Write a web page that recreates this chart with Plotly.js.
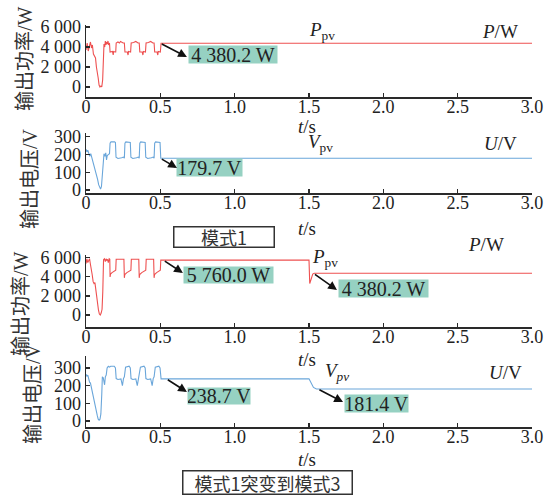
<!DOCTYPE html>
<html>
<head>
<meta charset="utf-8">
<script src="https://cdn.plot.ly/plotly-3.0.1.min.js"></script>
<style>html,body{margin:0;padding:0;background:#fff;}#chart{width:552px;height:496px;}</style>
</head>
<body>
<div id="chart"></div>
<script>
// ---- data ----
// Panel 1: mode 1, output power (W)
const t1 = [0,0.008,0.015,0.022,0.030,0.037,0.043,0.050,0.058,0.064,0.070,0.076,0.082,0.088,0.094,0.100,0.106,0.112,0.117,0.121,0.126,0.130,0.134,0.138,0.143,0.148,0.152,0.158,0.162,0.170,0.178,0.183,0.186,0.195,0.200,0.203,0.215,0.225,0.232,0.250,0.258,0.262,0.278,0.283,0.286,0.300,0.304,0.320,0.335,0.350,0.358,0.362,0.378,0.383,0.386,0.400,0.404,0.420,0.435,0.450,0.458,0.462,0.478,0.483,0.486,0.500,0.505,3.0];
const p1 = [3700,4400,3600,4100,4500,3900,4200,3300,3100,2900,2000,1600,900,200,0,100,0,700,2800,4300,4000,4600,4200,4500,4300,4600,4200,4400,3500,3500,3550,3200,3550,3500,3500,4400,4500,4400,4550,4400,4400,3500,3500,3200,3550,3500,4400,4450,4550,4400,4400,3500,3500,3200,3550,3500,4400,4450,4550,4400,4400,3500,3500,3200,3550,3500,4380.2,4380.2];
// Panel 2: mode 1, output voltage (V)
const t2 = [0,0.006,0.012,0.018,0.025,0.032,0.040,0.048,0.055,0.062,0.070,0.078,0.085,0.092,0.098,0.104,0.110,0.116,0.121,0.127,0.133,0.138,0.143,0.150,0.158,0.162,0.168,0.192,0.198,0.202,0.215,0.240,0.252,0.258,0.262,0.268,0.292,0.298,0.302,0.315,0.340,0.352,0.358,0.362,0.368,0.392,0.398,0.402,0.415,0.440,0.452,0.458,0.462,0.468,0.492,0.498,0.503,3.0];
const v2 = [230,215,225,200,190,205,180,160,140,120,90,60,30,15,5,20,100,180,205,190,210,170,195,200,205,265,272,272,268,185,178,182,186,180,265,272,272,268,185,178,182,186,180,265,272,272,268,185,178,182,186,180,265,272,272,268,179.7,179.7];
// Panel 3: mode 1 -> mode 3, output power (W)
const t3 = [0,0.006,0.012,0.018,0.024,0.030,0.036,0.042,0.048,0.054,0.060,0.066,0.072,0.078,0.084,0.090,0.096,0.102,0.108,0.113,0.118,0.124,0.130,0.135,0.140,0.145,0.150,0.156,0.160,0.162,0.165,0.175,0.188,0.200,0.203,0.255,0.258,0.261,0.275,0.290,0.302,0.305,0.355,0.358,0.361,0.375,0.390,0.402,0.405,0.455,0.458,0.461,0.475,0.490,0.500,0.503,1.500,1.505,1.515,1.525,1.535,3.0];
const p3 = [5400,5900,5500,5700,5900,5300,4400,4200,3500,3300,3400,2500,1600,1200,500,100,0,200,600,2500,5800,5900,5600,5900,5750,5850,5500,5900,5850,4000,4300,4450,4600,4700,5850,5850,3900,4250,4450,4600,4700,5850,5850,3900,4250,4450,4600,4700,5850,5850,3900,4250,4450,4600,4700,5760,5760,3300,3900,4300,4380.2,4380.2];
// Panel 4: mode 1 -> mode 3, output voltage (V)
const t4 = [0,0.006,0.012,0.018,0.024,0.030,0.036,0.042,0.050,0.058,0.064,0.070,0.076,0.082,0.088,0.094,0.100,0.106,0.110,0.116,0.121,0.125,0.130,0.136,0.142,0.150,0.158,0.166,0.190,0.198,0.203,0.215,0.235,0.245,0.252,0.258,0.266,0.290,0.298,0.303,0.315,0.335,0.345,0.352,0.358,0.366,0.390,0.398,0.403,0.415,0.435,0.445,0.452,0.458,0.466,0.490,0.498,0.505,1.500,1.515,1.530,1.550,3.0];
const v4 = [265,255,260,235,220,215,190,160,120,90,60,40,30,10,5,10,40,150,250,245,230,205,250,260,300,310,305,310,310,300,240,235,238,200,240,250,305,310,300,240,235,238,200,240,250,305,310,300,240,235,238,200,240,250,305,310,300,238.7,238.7,215,190,181.4,181.4];

const xTickVals = [0,0.5,1.0,1.5,2.0,2.5,3.0];
const xTickText = ['0','0.5','1.0','1.5','2.0','2.5','3.0'];
const pTickVals = [0,2000,4000,6000];
const pTickText = ['0','2 000','4 000','6 000'];
const vTickVals = [0,100,200,300];
const vTickText = ['0','100','200','300'];
const yTitlePower = '输出功率/W';
const yTitleVoltage = '输出电压/V';
const modeLabel1 = '模式1';
const modeLabel2 = '模式1突变到模式3';
const callouts = ['4 380.2 W','179.7 V','5 760.0 W','4 380.2 W','238.7 V','181.4 V'];

// ---- layout helpers ----
const W = 552, H = 496;
const px = v => v / W;
const py = v => 1 - v / H;
const RED = '#ee5050', BLUE = '#6aa6da';
const serif = 'Liberation Serif, Times New Roman, serif';
const cjk = 'Liberation Serif, Noto Sans CJK SC, serif';
const axisCol = '#2a2a2a';

function xAx(anchor) {
  return {domain:[px(86), px(532)], anchor:anchor, range:[0,3], tickvals:xTickVals, ticktext:xTickText,
    showline:true, linecolor:axisCol, linewidth:1.5, ticks:'inside', ticklen:4, tickwidth:1.2, tickcolor:axisCol,
    ticklabelstandoff:-7,
    showgrid:false, zeroline:false, tickfont:{family:serif, size:18, color:'#222'}, fixedrange:true};
}
function yAx(anchor, top, bottom, range, vals, text) {
  return {domain:[py(bottom), py(top)], anchor:anchor, range:range, tickvals:vals, ticktext:text,
    showline:true, linecolor:axisCol, linewidth:1.5, ticks:'inside', ticklen:4, tickwidth:1.2, tickcolor:axisCol,
    showgrid:false, zeroline:false, tickfont:{family:serif, size:18, color:'#222'}, fixedrange:true};
}

const traces = [
  {x:t1, y:p1, xaxis:'x', yaxis:'y', mode:'lines', line:{color:RED, width:1.1}},
  {x:t2, y:v2, xaxis:'x2', yaxis:'y2', mode:'lines', line:{color:BLUE, width:1.1}},
  {x:t3, y:p3, xaxis:'x3', yaxis:'y3', mode:'lines', line:{color:RED, width:1.1}},
  {x:t4, y:v4, xaxis:'x4', yaxis:'y4', mode:'lines', line:{color:BLUE, width:1.1}}
];

const TEAL = '#96d1c2';
function box(text, cx, cy, w, h) {
  return {xref:'paper', yref:'paper', x:px(cx), y:py(cy), text:text, showarrow:false,
    bgcolor:TEAL, width:w, height:h, borderpad:0, font:{family:serif, size:20, color:'#222'},
    xanchor:'center', yanchor:'middle'};
}
function arrow(xr, yr, tx, ty, hx, hy) {
  return {xref:xr, yref:yr, axref:xr, ayref:yr, x:hx, y:hy, ax:tx, ay:ty, text:'', showarrow:true,
    arrowhead:2, arrowsize:1.1, arrowwidth:1.6, arrowcolor:'#111', standoff:0, startstandoff:0};
}
function txt(text, cx, cy, size, extra) {
  return Object.assign({xref:'paper', yref:'paper', x:px(cx), y:py(cy), text:text, showarrow:false,
    font:{family:serif, size:size, color:'#222'}, xanchor:'center', yanchor:'middle'}, extra||{});
}
function ylab(text, cx, cy) {
  return {xref:'paper', yref:'paper', x:px(cx), y:py(cy), text:text, showarrow:false, textangle:-90,
    font:{family:cjk, size:20, color:'#333'}, xanchor:'center', yanchor:'middle'};
}
function modeBox(text, cx, cy, w, h) {
  return {xref:'paper', yref:'paper', x:px(cx), y:py(cy), text:text, showarrow:false, width:w, height:h,
    bordercolor:'#333', borderwidth:1.5, borderpad:0, bgcolor:'#fff',
    font:{family:'Noto Sans CJK SC, Liberation Serif, sans-serif', size:18, color:'#333'}, xanchor:'center', yanchor:'middle'};
}

const annotations = [
  // y-axis titles
  ylab(yTitlePower, 25, 59), ylab(yTitleVoltage, 30, 179), ylab(yTitlePower, 21, 304), ylab(yTitleVoltage, 33, 394),
  // t/s titles
  txt('<i>t</i>/s', 307, 126, 19), txt('<i>t</i>/s', 307, 228, 19), txt('<i>t</i>/s', 307, 359, 19), txt('<i>t</i>/s', 307, 459, 19),
  // series labels
  txt('<i>P</i><sub>pv</sub>', 322, 31, 19), txt('<i>P</i>/W', 500, 31, 19),
  txt('<i>V</i><sub>pv</sub>', 320, 143, 19), txt('<i>U</i>/V', 500, 143, 19),
  txt('<i>P</i><sub>pv</sub>', 325, 258, 19), txt('<i>P</i>/W', 486, 244, 19),
  txt('<i>V</i><sub><i>pv</i></sub>', 337, 372, 19), txt('<i>U</i>/V', 505, 372, 19),
  // callout boxes
  box(callouts[0], 233, 55, 88, 17), box(callouts[1], 209, 168, 65, 17), box(callouts[2], 228, 275, 89, 16),
  box(callouts[3], 383, 288, 89, 17), box(callouts[4], 219, 396, 62, 16), box(callouts[5], 376, 403, 63, 17),
  // arrows (tail on the curve, head at box)
  arrow('x', 'y', 0.5, 4380.2, 0.679, 3000),
  arrow('x2', 'y2', 0.5, 179.7, 0.612, 124),
  arrow('x3', 'y3', 0.52, 5760, 0.652, 4410),
  arrow('x3', 'y3', 1.53, 4380.2, 1.688, 2625),
  arrow('x4', 'y4', 0.54, 238.7, 0.679, 164),
  arrow('x4', 'y4', 1.56, 181.4, 1.729, 107),
  // mode boxes
  modeBox(modeLabel1, 223.5, 236.5, 99, 19), modeBox(modeLabel2, 267, 482, 168, 22)
];

const layout = {
  width:W, height:H, margin:{l:0, r:0, t:0, b:0}, showlegend:false,
  paper_bgcolor:'#ffffff', plot_bgcolor:'rgba(0,0,0,0)',
  xaxis:xAx('y'), xaxis2:xAx('y2'), xaxis3:xAx('y3'), xaxis4:xAx('y4'),
  yaxis:yAx('x', 25, 97, [-1000, 6200], pTickVals, pTickText),
  yaxis2:yAx('x2', 133, 193, [-17, 322], vTickVals, vTickText),
  yaxis3:yAx('x3', 255, 327, [-1260, 6300], pTickVals, pTickText),
  yaxis4:yAx('x4', 356, 427, [-34, 368], vTickVals, vTickText),
  annotations:annotations
};

Plotly.newPlot('chart', traces, layout, {displayModeBar:false, staticPlot:true});
</script>
</body>
</html>
